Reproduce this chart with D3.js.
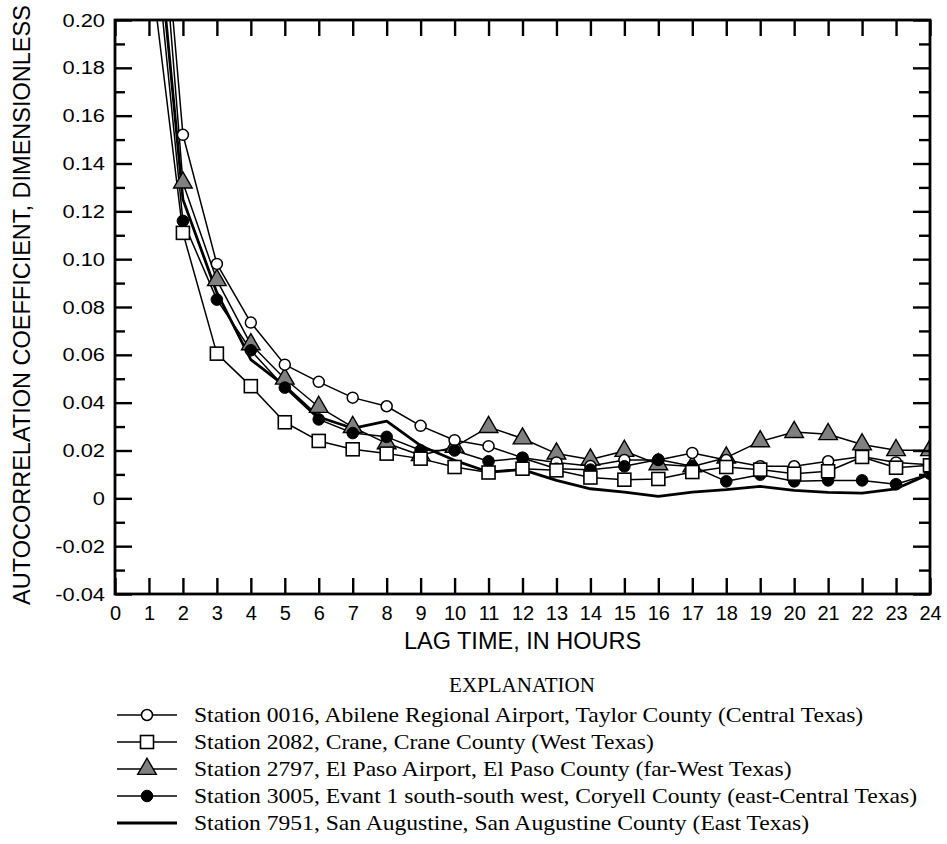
<!DOCTYPE html>
<html>
<head>
<meta charset="utf-8">
<script src="https://cdn.jsdelivr.net/npm/d3@7/dist/d3.min.js"></script>
<style>
  html, body { margin: 0; padding: 0; background: #fff; }
  svg { display: block; }
</style>
</head>
<body>
<svg id="chart" width="947" height="844"></svg>
<script>
// Lag times, in hours
const lags = [1,2,3,4,5,6,7,8,9,10,11,12,13,14,15,16,17,18,19,20,21,22,23,24];

// Autocorrelation coefficients by station
const st0016 = [0.318,0.152,0.098,0.0735,0.0559,0.0487,0.0421,0.0385,0.0303,0.0243,0.0218,0.0170,0.0150,0.0135,0.0160,0.0160,0.0190,0.0160,0.0134,0.0134,0.0155,0.0175,0.0150,0.0140];
const st2082 = [0.228,0.111,0.0605,0.0469,0.0318,0.0240,0.0205,0.0187,0.0166,0.0131,0.0108,0.0124,0.0117,0.0087,0.0078,0.0081,0.0110,0.0131,0.0120,0.0103,0.0113,0.0173,0.0128,0.0138];
const st2797 = [0.311,0.132,0.0912,0.0644,0.0500,0.0382,0.0298,0.0230,0.0180,0.0215,0.0298,0.0250,0.0187,0.0162,0.0198,0.0142,0.0133,0.0170,0.0238,0.0277,0.0268,0.0225,0.0201,0.0201];
const st3005 = [0.258,0.116,0.0831,0.0619,0.0463,0.0330,0.0273,0.0257,0.0201,0.0200,0.0155,0.0169,0.0124,0.0120,0.0134,0.0162,0.0134,0.0071,0.0099,0.0071,0.0075,0.0075,0.0059,0.0103];
const st7951 = [0.275,0.125,0.086,0.058,0.047,0.034,0.0293,0.0323,0.0220,0.0159,0.0110,0.0120,0.0075,0.0040,0.0026,0.0008,0.0026,0.0036,0.0050,0.0033,0.0025,0.0022,0.0040,0.0103];

// Axis ticks and labels
const xTicks = [0,1,2,3,4,5,6,7,8,9,10,11,12,13,14,15,16,17,18,19,20,21,22,23,24];
const yMajorTicks = [0.20,0.18,0.16,0.14,0.12,0.10,0.08,0.06,0.04,0.02,0,-0.02,-0.04];
const yTickLabels = ["0.20","0.18","0.16","0.14","0.12","0.10","0.08","0.06","0.04","0.02","0","-0.02","-0.04"];
const yMinorTicks = [0.19,0.17,0.15,0.13,0.11,0.09,0.07,0.05,0.03,0.01,-0.01,-0.03];

// Legend entries
const stationNames = [
  "Station 0016, Abilene Regional Airport, Taylor County (Central Texas)",
  "Station 2082, Crane, Crane County (West Texas)",
  "Station 2797, El Paso Airport, El Paso County (far-West Texas)",
  "Station 3005, Evant 1 south-south west, Coryell County (east-Central Texas)",
  "Station 7951, San Augustine, San Augustine County (East Texas)"
];

const series = [
  { name: stationNames[0], values: st0016, marker: "circleOpen", width: 1.5 },
  { name: stationNames[1], values: st2082, marker: "square", width: 1.5 },
  { name: stationNames[2], values: st2797, marker: "triangle", width: 1.5 },
  { name: stationNames[3], values: st3005, marker: "circleFilled", width: 1.5 },
  { name: stationNames[4], values: st7951, marker: null, width: 2.8 }
];

const pLeft = 115, pRight = 930, pTop = 20, pBottom = 594;
const x = d3.scaleLinear().domain([0, 24]).range([pLeft, pRight]);
const y = d3.scaleLinear().domain([-0.04, 0.20]).range([pBottom, pTop]);

const svg = d3.select("#chart");
const sans = "'Liberation Sans', Arial, Helvetica, sans-serif";
const serif = "'Liberation Serif', 'Times New Roman', Times, serif";
const wide = 1.15; // horizontal stretch of the lettering

svg.append("defs").append("clipPath").attr("id", "plotClip")
  .append("rect").attr("x", pLeft).attr("y", pTop)
  .attr("width", pRight - pLeft).attr("height", pBottom - pTop);

function drawMarker(g, type, cx, cy) {
  if (type === "circleOpen") {
    g.append("circle").attr("cx", cx).attr("cy", cy).attr("r", 5.5)
      .attr("fill", "#fff").attr("stroke", "#000").attr("stroke-width", 1.5);
  } else if (type === "circleFilled") {
    g.append("circle").attr("cx", cx).attr("cy", cy).attr("r", 5.8)
      .attr("fill", "#000").attr("stroke", "#000").attr("stroke-width", 1);
  } else if (type === "square") {
    g.append("rect").attr("x", cx - 6.5).attr("y", cy - 6.5)
      .attr("width", 13).attr("height", 13)
      .attr("fill", "#fff").attr("stroke", "#000").attr("stroke-width", 1.6);
  } else if (type === "triangle") {
    const s = d3.symbol().type(d3.symbolTriangle).size(150);
    g.append("path").attr("d", s()).attr("transform", `translate(${cx},${cy})`)
      .attr("fill", "#808080").attr("stroke", "#000").attr("stroke-width", 1.4);
  }
}

// Data lines and markers
const plot = svg.append("g").attr("clip-path", "url(#plotClip)");
const line = d3.line().x((d, i) => x(lags[i])).y(d => y(d));

series.forEach(s => {
  plot.append("path").datum(s.values).attr("d", line)
    .attr("fill", "none").attr("stroke", "#000")
    .attr("stroke-width", s.width).attr("stroke-linejoin", "round");
});
const markerOrder = [2, 0, 3, 1];
markerOrder.forEach(k => {
  const s = series[k];
  const mg = plot.append("g");
  s.values.forEach((v, i) => {
    if (y(v) >= pTop) drawMarker(mg, s.marker, x(lags[i]), y(v));
  });
});

// Axes: ticks point inward on all four sides
const axisStyle = g => {
  g.selectAll(".domain").remove();
  g.selectAll(".tick line").attr("stroke", "#000").attr("stroke-width", 2.4);
  g.selectAll("text").attr("font-family", sans).attr("fill", "#000");
};

svg.append("g").attr("transform", `translate(${pLeft},0)`)
  .call(d3.axisLeft(y).tickValues(yMajorTicks).tickSizeInner(-17).tickSizeOuter(0).tickPadding(10)
    .tickFormat((d, i) => yTickLabels[i]))
  .call(axisStyle)
  .call(g => g.selectAll("text").attr("font-size", 19)
    .attr("x", -10 / wide).attr("transform", `scale(${wide},1)`));

svg.append("g").attr("transform", `translate(${pLeft},0)`)
  .call(d3.axisLeft(y).tickValues(yMinorTicks).tickSizeInner(-10).tickSizeOuter(0).tickFormat(""))
  .call(axisStyle);

svg.append("g").attr("transform", `translate(${pRight},0)`)
  .call(d3.axisRight(y).tickValues(yMajorTicks).tickSizeInner(-17).tickSizeOuter(0).tickFormat(""))
  .call(axisStyle);

svg.append("g").attr("transform", `translate(${pRight},0)`)
  .call(d3.axisRight(y).tickValues(yMinorTicks).tickSizeInner(-11).tickSizeOuter(0).tickFormat(""))
  .call(axisStyle);

svg.append("g").attr("transform", `translate(0,${pBottom})`)
  .call(d3.axisBottom(x).tickValues(xTicks).tickSizeInner(-16).tickSizeOuter(0).tickPadding(12)
    .tickFormat(d3.format("d")))
  .call(axisStyle)
  .call(g => g.selectAll("text").attr("font-size", 20));

svg.append("g").attr("transform", `translate(0,${pTop})`)
  .call(d3.axisTop(x).tickValues(xTicks).tickSizeInner(-16).tickSizeOuter(0).tickFormat(""))
  .call(axisStyle);

// Frame
svg.append("rect").attr("x", pLeft).attr("y", pTop)
  .attr("width", pRight - pLeft).attr("height", pBottom - pTop)
  .attr("fill", "none").attr("stroke", "#000").attr("stroke-width", 2.8);

// Axis titles
svg.append("text")
  .attr("x", (pLeft + pRight) / 2).attr("y", 649)
  .attr("text-anchor", "middle").attr("font-family", sans).attr("font-size", 23.5)
  .text("LAG TIME, IN HOURS");

svg.append("text")
  .attr("transform", "translate(30,305) rotate(-90)")
  .attr("text-anchor", "middle").attr("font-family", sans).attr("font-size", 23.5)
  .text("AUTOCORRELATION COEFFICIENT, DIMENSIONLESS");

// Legend
svg.append("text")
  .attr("x", 522).attr("y", 692)
  .attr("text-anchor", "middle").attr("font-family", serif).attr("font-size", 21)
  .text("EXPLANATION");

const legend = svg.append("g");
series.forEach((s, i) => {
  const ly = 715 + i * 27;
  legend.append("line").attr("x1", 117).attr("x2", 177).attr("y1", ly).attr("y2", ly)
    .attr("stroke", "#000").attr("stroke-width", s.width);
  if (s.marker) drawMarker(legend, s.marker, 147, ly);
  legend.append("text")
    .attr("transform", `translate(194,${ly + 7}) scale(1.18,1)`)
    .attr("font-family", serif).attr("font-size", 20)
    .text(s.name);
});
</script>
</body>
</html>
